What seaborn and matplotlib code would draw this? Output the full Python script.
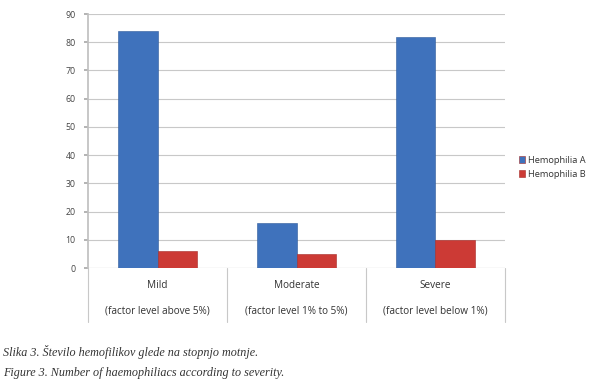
import matplotlib
matplotlib.use("Agg")
import matplotlib.pyplot as plt
import seaborn as sns
import pandas as pd

categories = ["Mild", "Moderate", "Severe"]
subtitles = ["(factor level above 5%)", "(factor level 1% to 5%)", "(factor level below 1%)"]
series = ["Hemophilia A", "Hemophilia B"]
hemo_a = [84, 16, 82]
hemo_b = [6, 5, 10]
yticks = [0, 10, 20, 30, 40, 50, 60, 70, 80, 90]
caption1 = "Slika 3. Število hemofilikov glede na stopnjo motnje."
caption2 = "Figure 3. Number of haemophiliacs according to severity."

df = pd.DataFrame({
    "cat": categories * 2,
    "series": [series[0]] * 3 + [series[1]] * 3,
    "value": hemo_a + hemo_b,
})

sns.set_theme(style="white")
plt.rcParams['font.family'] = ['Open Sans', 'DejaVu Sans']

fig = plt.figure(figsize=(6, 3.88), dpi=100)
ax = fig.add_axes([88/600, 1-268/388, (505-88)/600, (268-14)/388])

palette = {series[0]: "#3F72BC", series[1]: "#CC3A35"}
sns.barplot(data=df, x="cat", y="value", hue="series", palette=palette,
            width=0.575, ax=ax, edgecolor="#2d5a9a", linewidth=0.4, saturation=1)
for p in ax.patches[3:]:
    p.set_edgecolor("#a52a27")

ax.set_ylim(0, 90)
ax.set_xlim(-0.5, 2.5)
ax.set_yticks(yticks)
ax.set_yticklabels([str(t) for t in yticks], fontsize=6.3, color="#444444")
ax.tick_params(axis='y', length=3, color="#aaaaaa", pad=6, left=True)
ax.yaxis.grid(True, color="#c8c8c8", linewidth=0.8)
ax.set_axisbelow(True)
ax.set_xticks([])
ax.set_xlabel("")
ax.set_ylabel("")
for s in ["top", "right", "bottom"]:
    ax.spines[s].set_visible(False)
ax.spines["left"].set_color("#c0c0c0")
ax.axhline(0, color="#bbbbbb", linewidth=0.8, zorder=0.5)

# table-like category axis
trans = ax.get_xaxis_transform()
for x in [-0.5, 0.5, 1.5, 2.5]:
    ax.plot([x, x], [0, -54/254], transform=trans, color="#c8c8c8",
            linewidth=0.8, clip_on=False)
for i, (c, s) in enumerate(zip(categories, subtitles)):
    ax.text(i, -17/254, c, transform=trans, ha="center", va="center",
            fontsize=7.2, color="#333333")
    ax.text(i, -43/254, s, transform=trans, ha="center", va="center",
            fontsize=7.2, color="#333333")

leg = ax.legend(loc="upper left", bbox_to_anchor=(512/600, 1-149/388),
                bbox_transform=fig.transFigure, frameon=False, fontsize=6.7,
                handlelength=0.7, handleheight=0.7, handletextpad=0.3,
                labelspacing=0.55, borderpad=0.2)
for t in leg.get_texts():
    t.set_color("#333333")

fig.text(3/600, 1-352/388, caption1, fontsize=8.7, style="italic",
         family="Liberation Serif", color="#333333", va="center")
fig.text(3/600, 1-373/388, caption2, fontsize=8.7, style="italic",
         family="Liberation Serif", color="#333333", va="center")

fig.savefig("out.png", dpi=100)
